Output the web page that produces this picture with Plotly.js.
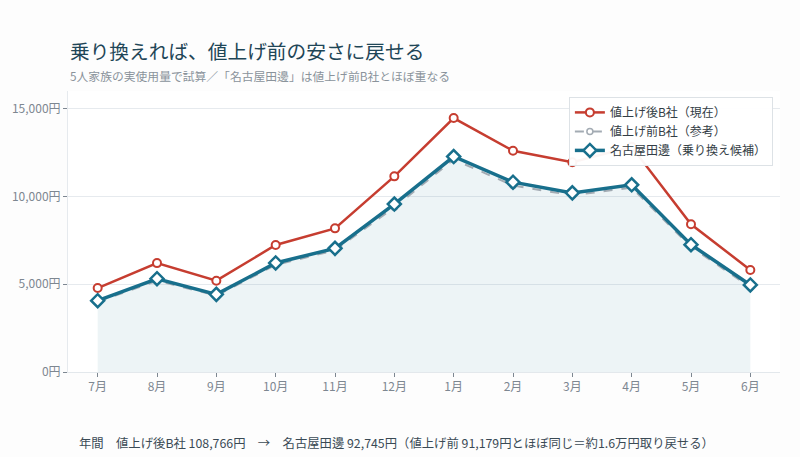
<!DOCTYPE html>
<html>
<head>
<meta charset="utf-8">
<script src="https://cdn.plot.ly/plotly-3.0.1.min.js"></script>
<style>html,body{margin:0;padding:0;background:#fdfdfd;}</style>
</head>
<body>
<div id="chart" style="width:800px;height:457px;"></div>
<script>
const months = ["7月","8月","9月","10月","11月","12月","1月","2月","3月","4月","5月","6月"];
const afterB = [4780, 6200, 5200, 7230, 8180, 11140, 14460, 12600, 11940, 12820, 8410, 5810];
const beforeB = [3990, 5200, 4350, 6100, 6930, 9380, 12100, 10620, 10060, 10500, 7120, 4830];
const nagoya = [4060, 5310, 4420, 6210, 7040, 9560, 12270, 10810, 10200, 10660, 7250, 4955];
const yTicks = [0, 5000, 10000, 15000];
const yTickText = ["0円", "5,000円", "10,000円", "15,000円"];

const font = "'Noto Sans CJK JP', 'Noto Sans', sans-serif";
const teal = "#186f8c", red = "#c63d30", gray = "#a3abb3";

const traces = [
  {x: months, y: nagoya, type: "scatter", mode: "none", fill: "tozeroy",
   fillcolor: "rgba(24,111,140,0.08)", showlegend: false, hoverinfo: "skip"},
  {x: months, y: afterB, type: "scatter", mode: "lines+markers", name: "値上げ後B社（現在）",
   line: {color: red, width: 2.5},
   marker: {symbol: "circle", size: 8, color: "white", line: {color: red, width: 2}}},
  {x: months, y: beforeB, type: "scatter", mode: "lines+markers", name: "値上げ前B社（参考）",
   line: {color: gray, width: 2, dash: "dash"},
   marker: {symbol: "circle", size: 6, color: "white", line: {color: gray, width: 1.5}}},
  {x: months, y: nagoya, type: "scatter", mode: "lines+markers", name: "名古屋田邊（乗り換え候補）",
   line: {color: teal, width: 3.5},
   marker: {symbol: "diamond", size: 10, color: "white", line: {color: teal, width: 2.5}}}
];

const layout = {
  width: 800, height: 457,
  margin: {l: 68, r: 20, t: 91, b: 85},
  paper_bgcolor: "#fdfdfd", plot_bgcolor: "#ffffff",
  font: {family: font, color: "#7d8791", size: 12},
  xaxis: {type: "category", range: [-0.5, 11.5], showgrid: false, zeroline: false,
          showline: true, linecolor: "#e3e8ec", ticks: "outside", ticklen: 4, tickcolor: "#7d8791",
          tickfont: {size: 12, color: "#7d8791"}},
  yaxis: {range: [0, 16000], tickvals: yTicks, ticktext: yTickText, showgrid: true,
          gridcolor: "#e6eaee", zeroline: false, showline: true, linecolor: "#e6eaee",
          ticks: "outside", ticklen: 4, tickcolor: "#7d8791",
          tickfont: {size: 12, color: "#7d8791"}},
  showlegend: true,
  legend: {x: 0.99, xanchor: "right", y: 0.979, yanchor: "top", bgcolor: "rgba(255,255,255,0.95)",
           bordercolor: "#dde2e6", borderwidth: 1, font: {size: 12, color: "#333d45"},
           tracegroupgap: 0},
  annotations: [
    {text: "乗り換えれば、値上げ前の安さに戻せる", xref: "paper", yref: "paper", x: 0, y: 1.0,
     xanchor: "left", yanchor: "bottom", yshift: 24, showarrow: false,
     font: {size: 19.7, color: "#1f4657", family: font}},
    {text: "5人家族の実使用量で試算／「名古屋田邊」は値上げ前B社とほぼ重なる", xref: "paper", yref: "paper",
     x: 0, y: 1.0, xanchor: "left", yanchor: "bottom", yshift: 5, showarrow: false,
     font: {size: 11.8, color: "#8a939b", family: font}},
    {text: "年間　値上げ後B社 108,766円　→　名古屋田邊 92,745円（値上げ前 91,179円とほぼ同じ＝約1.6万円取り戻せる）",
     xref: "paper", yref: "paper", x: 0.013, y: 0, xanchor: "left", yanchor: "top", yshift: -60,
     showarrow: false, font: {size: 12.35, color: "#3a4a55", family: font}}
  ]
};

Plotly.newPlot("chart", traces, layout, {displayModeBar: false, staticPlot: true});
</script>
</body>
</html>
